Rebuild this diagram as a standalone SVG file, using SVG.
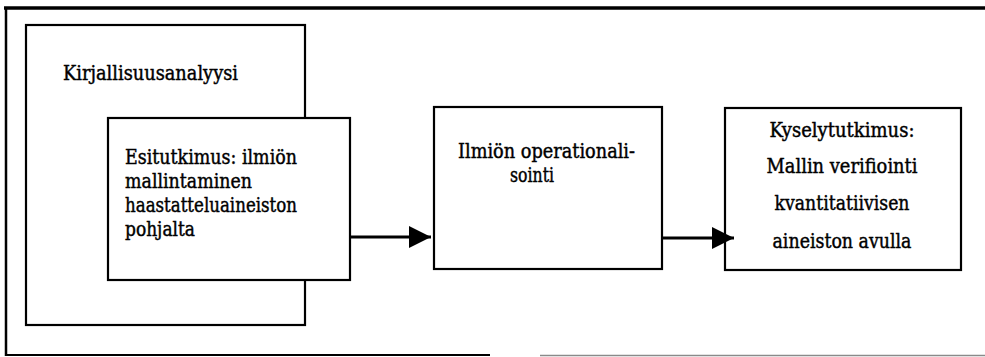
<svg xmlns="http://www.w3.org/2000/svg" width="985" height="357" viewBox="0 0 985 357">
  <defs>
    <style>
      .box { fill: #ffffff; stroke: #000000; stroke-width: 2.2; }
      .frame { fill: none; stroke: #000000; }
      .lbl { font-family: 'DejaVu Serif', 'Liberation Serif', serif; font-size: 20px; fill: #000000; stroke: #000000; stroke-width: 0.45; }
      .mid { text-anchor: middle; }
      .link { fill: none; stroke: #000000; stroke-width: 3; }
    </style>
    <marker id="head" viewBox="0 0 22 22" refX="22" refY="11" markerWidth="22" markerHeight="22" markerUnits="userSpaceOnUse" orient="auto">
      <path d="M0,0 L22,11 L0,22 Z" fill="#000000"/>
    </marker>
  </defs>

  <rect x="0" y="0" width="985" height="357" fill="#ffffff"/>

  <!-- outer frame: top, left and bottom rules -->
  <g id="frame">
    <line class="frame" x1="4" y1="8" x2="985" y2="8" stroke-width="3.5"/>
    <line class="frame" x1="6" y1="7" x2="6" y2="356" stroke-width="2.5"/>
    <line class="frame" x1="5" y1="355" x2="490" y2="355" stroke-width="2"/>
    <line x1="540" y1="355.5" x2="985" y2="355.5" stroke="#8a8a8a" stroke-width="1.5"/>
  </g>

  <g id="kirjallisuusanalyysi">
    <rect class="box" x="26" y="25" width="279" height="300"/>
    <text class="lbl" x="63" y="80" textLength="175" lengthAdjust="spacingAndGlyphs">Kirjallisuusanalyysi</text>
  </g>

  <g id="esitutkimus">
    <rect class="box" x="108" y="118" width="242" height="162"/>
    <text class="lbl" x="125" y="164" textLength="172" lengthAdjust="spacingAndGlyphs">Esitutkimus: ilmiön</text>
    <text class="lbl" x="125" y="188" textLength="127" lengthAdjust="spacingAndGlyphs">mallintaminen</text>
    <text class="lbl" x="125" y="212" textLength="172" lengthAdjust="spacingAndGlyphs">haastatteluaineiston</text>
    <text class="lbl" x="125" y="236" textLength="70" lengthAdjust="spacingAndGlyphs">pohjalta</text>
  </g>

  <g id="operationalisointi">
    <rect class="box" x="434" y="107" width="228" height="162"/>
    <text class="lbl" x="458" y="158" textLength="177" lengthAdjust="spacingAndGlyphs">Ilmiön operationali-</text>
    <text class="lbl" x="510" y="182" textLength="44" lengthAdjust="spacingAndGlyphs">sointi</text>
  </g>

  <g id="kyselytutkimus">
    <rect class="box" x="725" y="108" width="236" height="162"/>
    <text class="lbl mid" x="842" y="137" textLength="145" lengthAdjust="spacingAndGlyphs">Kyselytutkimus:</text>
    <text class="lbl mid" x="842" y="173" textLength="151" lengthAdjust="spacingAndGlyphs">Mallin verifiointi</text>
    <text class="lbl mid" x="842" y="210" textLength="135" lengthAdjust="spacingAndGlyphs">kvantitatiivisen</text>
    <text class="lbl mid" x="842" y="248" textLength="139" lengthAdjust="spacingAndGlyphs">aineiston avulla</text>
  </g>

  <g id="connectors">
    <line class="link" x1="351" y1="237" x2="431" y2="237" marker-end="url(#head)"/>
    <line class="link" x1="663" y1="238" x2="734" y2="238" marker-end="url(#head)"/>
  </g>
</svg>
